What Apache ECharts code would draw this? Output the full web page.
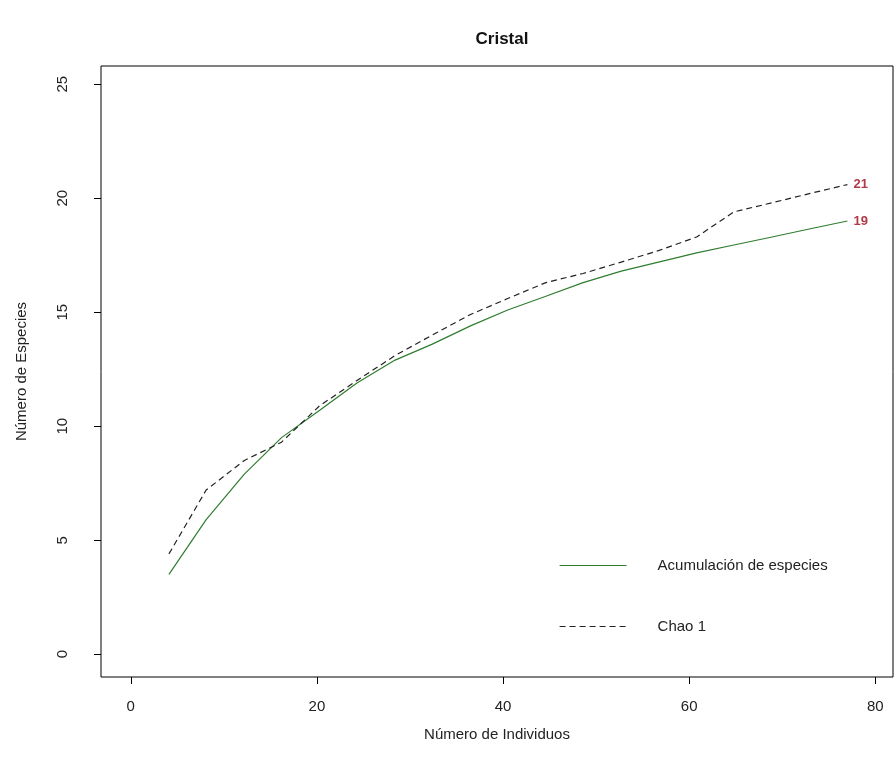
<!DOCTYPE html>
<html>
<head>
<meta charset="utf-8">
<title>Cristal</title>
<script src="https://cdn.jsdelivr.net/npm/echarts@6/dist/echarts.min.js"></script>
<style>
  html, body { margin: 0; padding: 0; background: #fff; }
  #main { width: 896px; height: 774px; }
</style>
</head>
<body>
<div id="main"></div>
<script>
// número de individuos (eje x)
const individuos = [4.1, 8.1, 12.2, 16.2, 20.3, 24.3, 28.4, 32.4, 36.5, 40.5,
  44.6, 48.6, 52.7, 56.7, 60.8, 64.8, 68.9, 72.9, 77];
// acumulación de especies
const acumulacion = [3.5, 5.9, 7.9, 9.5, 10.7, 11.9, 12.9, 13.6, 14.4, 15.1,
  15.7, 16.3, 16.8, 17.2, 17.6, 17.95, 18.3, 18.65, 19.0];
// estimador Chao 1
const chao1 = [4.4, 7.2, 8.5, 9.3, 10.9, 12.0, 13.1, 14.0, 14.9, 15.6,
  16.3, 16.7, 17.2, 17.7, 18.3, 19.4, 19.8, 20.2, 20.6];
const xTicks = [0, 20, 40, 60, 80];
const yTicks = [0, 5, 10, 15, 20, 25];

const font = 'Liberation Sans, Arial, sans-serif';
const chart = echarts.init(document.getElementById('main'));

const pairs = (ys) => individuos.map((x, i) => [x, ys[i]]);

const endLabel = {
  show: true,
  formatter: p => Math.round(p.value[1]),
  color: '#b23a48',
  fontWeight: 'bold',
  fontFamily: font,
  fontSize: 13,
  distance: 6
};

const option = {
  animation: false,
  backgroundColor: '#fff',
  title: {
    text: 'Cristal',
    left: 497,
    textAlign: 'center',
    top: 26,
    textStyle: { fontFamily: font, fontSize: 17, fontWeight: 'bold', color: '#111' }
  },
  legend: {
    orient: 'vertical',
    left: 559,
    top: 558,
    padding: 0,
    itemWidth: 67,
    itemHeight: 14,
    itemGap: 46,
    itemStyle: { opacity: 0 },
    lineStyle: { width: 1.2 },
    data: ['Acumulación de especies', 'Chao 1'],
    textStyle: { fontFamily: font, fontSize: 15, color: '#222', padding: [0, 0, 0, 26] }
  },
  grid: {
    left: 101,
    right: 3,
    top: 66,
    bottom: 97,
    show: true,
    borderColor: '#000',
    borderWidth: 1
  },
  xAxis: {
    type: 'value',
    min: -3.2,
    max: 81.9,
    name: 'Número de Individuos',
    nameLocation: 'middle',
    nameGap: 50,
    nameTextStyle: { fontFamily: font, fontSize: 15, color: '#222' },
    axisLine: { show: false, onZero: false },
    splitLine: { show: false },
    axisTick: { show: true, length: 7, customValues: xTicks, lineStyle: { color: '#000' } },
    axisLabel: { customValues: xTicks, margin: 22, fontFamily: font, fontSize: 15, color: '#222' }
  },
  yAxis: {
    type: 'value',
    min: -1,
    max: 25.8,
    name: 'Número de Especies',
    nameLocation: 'middle',
    nameGap: 72,
    nameTextStyle: { fontFamily: font, fontSize: 15, color: '#222' },
    axisLine: { show: false, onZero: false },
    splitLine: { show: false },
    axisTick: { show: true, length: 7, customValues: yTicks, lineStyle: { color: '#000' } },
    axisLabel: { customValues: yTicks, rotate: 90, margin: 31, fontFamily: font, fontSize: 15, color: '#222' }
  },
  series: [
    {
      name: 'Acumulación de especies',
      type: 'line',
      data: pairs(acumulacion),
      symbol: 'none',
      lineStyle: { color: '#2f7d2f', width: 1.2 },
      itemStyle: { color: '#2f7d2f' },
      endLabel: endLabel
    },
    {
      name: 'Chao 1',
      type: 'line',
      data: pairs(chao1),
      symbol: 'none',
      lineStyle: { color: '#222', width: 1.2, type: [6, 4] },
      itemStyle: { color: '#222' },
      endLabel: endLabel
    }
  ]
};

chart.setOption(option);
</script>
</body>
</html>
